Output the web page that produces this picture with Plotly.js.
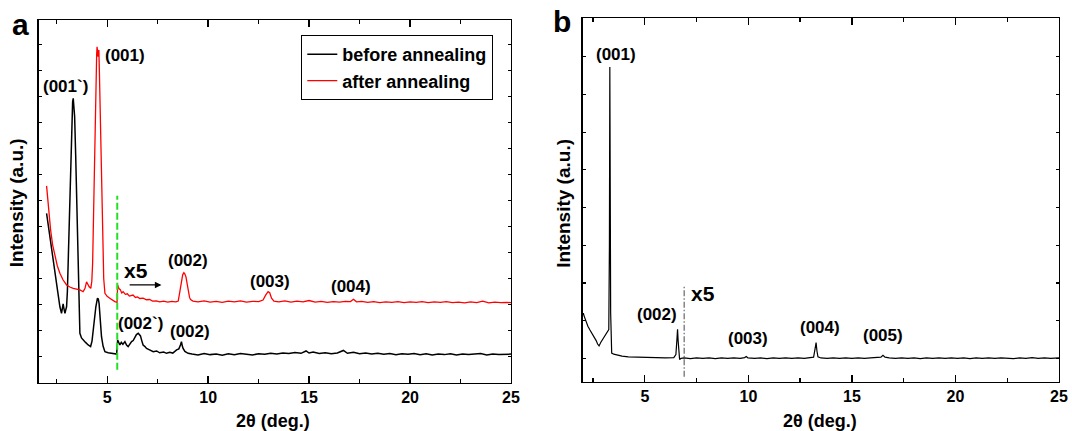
<!DOCTYPE html>
<html><head><meta charset="utf-8">
<script src="https://cdn.plot.ly/plotly-3.0.1.min.js"></script>
<style>html,body{margin:0;padding:0;background:#fff}#chart{width:1072px;height:431px}</style>
</head><body><div id="chart"></div>
<script>
// ---------- DATA ----------
// Panel a, "before annealing" (x: 2θ in deg, y: intensity in arbitrary tick units; after 5.5° shown x5)
const beforeAnnealing = [
 [2.0,6.51],[2.08,6.05],[2.16,5.62],[2.25,5.1],[2.33,4.59],[2.42,4.2],[2.5,3.82],[2.58,3.35],[2.66,2.92],[2.74,2.67],
 [2.78,2.85],[2.82,3.03],[2.86,2.85],[2.91,2.67],[2.95,2.8],[2.99,2.92],[3.03,3.5],[3.07,4.59],[3.13,6.5],[3.19,8.44],
 [3.25,10.0],[3.29,10.8],[3.32,10.94],[3.35,10.6],[3.39,10.23],[3.44,8.8],[3.49,7.15],[3.56,3.95],[3.65,1.9],[3.73,1.72],
 [3.81,1.64],[3.93,1.55],[4.06,1.45],[4.18,1.39],[4.25,1.6],[4.31,2.03],[4.38,2.5],[4.44,2.92],[4.52,3.25],[4.56,3.22],
 [4.6,3.05],[4.66,2.4],[4.72,1.77],[4.8,1.4],[4.89,1.19],[5.05,1.15],[5.22,1.13],[5.35,1.11],[5.47,1.1],[5.52,1.64],
 [5.58,1.5],[5.63,1.45],[5.7,1.55],[5.78,1.48],[5.88,1.58],[5.96,1.45],[6.04,1.39],[6.12,1.5],[6.21,1.58],[6.29,1.62],
 [6.37,1.77],[6.45,1.85],[6.54,1.9],[6.6,1.85],[6.65,1.8],[6.72,1.6],[6.78,1.45],[6.86,1.4],[6.95,1.32],[7.1,1.26],
 [7.28,1.19],[7.45,1.22],[7.6,1.15],[7.8,1.18],[7.94,1.13],[8.1,1.17],[8.25,1.14],[8.44,1.26],[8.55,1.3],[8.63,1.45],
 [8.68,1.58],[8.72,1.42],[8.76,1.32],[8.85,1.2],[9.01,1.13],[9.2,1.1],[9.5,1.07],[9.8,1.12],[10.1,1.08],[10.4,1.1],
 [10.7,1.06],[11.0,1.11],[11.3,1.08],[11.6,1.12],[11.9,1.09],[12.2,1.07],[12.5,1.11],[12.8,1.09],[13.1,1.13],[13.4,1.1],
 [13.7,1.14],[14.0,1.12],[14.3,1.16],[14.6,1.13],[14.85,1.22],[15.0,1.14],[15.2,1.18],[15.5,1.12],[15.8,1.15],[16.1,1.11],
 [16.4,1.14],[16.7,1.24],[16.9,1.13],[17.2,1.17],[17.5,1.11],[17.8,1.14],[18.1,1.1],[18.4,1.13],[18.7,1.09],[19.0,1.12],
 [19.3,1.08],[19.6,1.11],[19.9,1.09],[20.2,1.12],[20.5,1.08],[20.8,1.11],[21.1,1.07],[21.4,1.1],[21.7,1.08],[22.0,1.11],
 [22.3,1.07],[22.6,1.1],[22.9,1.08],[23.2,1.09],[23.5,1.12],[23.8,1.07],[24.1,1.1],[24.4,1.08],[24.7,1.09],[25.0,1.1]
];
// Panel a, "after annealing"
const afterAnnealing = [
 [2.0,7.57],[2.04,7.2],[2.08,6.9],[2.14,6.35],[2.2,5.87],[2.3,5.3],[2.41,4.85],[2.53,4.5],[2.66,4.21],[2.82,3.95],
 [2.99,3.76],[3.15,3.68],[3.32,3.63],[3.5,3.6],[3.65,3.57],[3.81,3.5],[3.9,3.62],[3.98,3.88],[4.05,3.75],[4.11,3.69],
 [4.19,3.63],[4.24,3.9],[4.28,4.59],[4.32,6.5],[4.36,8.44],[4.4,10.2],[4.44,11.64],[4.48,12.6],[4.5,12.92],[4.53,12.6],
 [4.55,12.54],[4.57,12.7],[4.59,12.8],[4.62,11.8],[4.67,9.72],[4.72,7.4],[4.77,5.23],[4.83,4.0],[4.89,3.44],[5.0,3.32],
 [5.13,3.25],[5.25,3.18],[5.38,3.12],[5.49,3.09],[5.52,3.76],[5.58,3.62],[5.65,3.58],[5.72,3.45],[5.79,3.5],[5.9,3.4],
 [6.0,3.42],[6.1,3.33],[6.2,3.36],[6.28,3.37],[6.4,3.28],[6.5,3.3],[6.62,3.24],[6.78,3.25],[6.95,3.19],[7.1,3.2],
 [7.25,3.14],[7.44,3.15],[7.6,3.11],[7.8,3.14],[8.0,3.1],[8.2,3.13],[8.4,3.11],[8.52,3.14],[8.6,3.5],[8.68,3.95],
 [8.74,4.15],[8.8,4.23],[8.85,4.18],[8.9,4.08],[8.96,3.8],[9.01,3.5],[9.08,3.28],[9.13,3.2],[9.25,3.14],[9.5,3.11],
 [9.8,3.15],[10.1,3.1],[10.4,3.13],[10.7,3.09],[11.0,3.14],[11.3,3.11],[11.6,3.15],[11.9,3.1],[12.2,3.13],[12.5,3.12],
 [12.72,3.18],[12.85,3.37],[12.97,3.5],[13.05,3.46],[13.14,3.25],[13.26,3.14],[13.5,3.11],[13.8,3.15],[14.1,3.1],[14.4,3.14],
 [14.7,3.11],[15.0,3.16],[15.3,3.1],[15.6,3.13],[15.9,3.09],[16.2,3.12],[16.5,3.1],[16.8,3.13],[17.05,3.12],[17.2,3.21],
 [17.35,3.11],[17.6,3.13],[17.9,3.09],[18.2,3.12],[18.5,3.08],[18.8,3.11],[19.1,3.09],[19.4,3.12],[19.7,3.08],[20.0,3.11],
 [20.3,3.09],[20.6,3.12],[20.9,3.08],[21.2,3.11],[21.5,3.09],[21.8,3.12],[22.1,3.08],[22.4,3.1],[22.7,3.07],[23.0,3.11],
 [23.3,3.08],[23.6,3.14],[23.9,3.07],[24.2,3.1],[24.5,3.08],[24.8,3.09],[25.0,3.08]
];
// Panel b (after 6.9° shown x5)
const panelB = [
 [2.0,1.15],[2.03,1.2],[2.07,1.12],[2.15,0.98],[2.25,0.85],[2.35,0.75],[2.45,0.66],[2.55,0.58],[2.65,0.47],[2.72,0.38],
 [2.79,0.33],[2.87,0.42],[2.99,0.53],[3.1,0.63],[3.2,0.7],[3.26,0.76],[3.29,3.0],[3.31,7.73],[3.33,4.5],[3.35,1.2],
 [3.37,0.25],[3.4,0.14],[3.5,0.11],[3.7,0.08],[3.9,0.06],[4.2,0.04],[4.6,0.03],[5.0,0.02],[5.5,0.02],[6.0,0.01],
 [6.4,0.02],[6.5,0.1],[6.55,0.5],[6.58,0.77],[6.61,0.45],[6.64,0.1],[6.68,-0.03],[6.75,0.0],[6.9,0.01],[7.2,-0.01],
 [7.5,0.01],[7.8,0.0],[8.1,0.01],[8.4,-0.01],[8.7,0.01],[9.0,0.0],[9.3,0.01],[9.6,0.0],[9.82,0.02],[9.9,0.05],
 [9.98,0.01],[10.3,0.0],[10.6,0.01],[10.9,-0.01],[11.2,0.01],[11.5,0.0],[11.8,0.01],[12.1,0.0],[12.4,0.01],[12.7,0.0],
 [13.0,0.01],[13.15,0.03],[13.22,0.25],[13.27,0.42],[13.31,0.2],[13.36,0.04],[13.5,0.01],[13.8,0.0],[14.1,0.01],[14.4,0.0],
 [14.7,0.01],[15.0,0.0],[15.3,0.01],[15.6,0.0],[15.9,0.01],[16.2,0.01],[16.4,0.03],[16.5,0.08],[16.6,0.03],[16.8,0.01],
 [17.1,0.0],[17.4,0.01],[17.7,0.0],[18.0,0.01],[18.3,-0.01],[18.6,0.01],[18.9,0.0],[19.2,0.01],[19.5,0.0],[19.8,0.01],
 [20.1,0.0],[20.4,0.01],[20.7,-0.01],[21.0,0.01],[21.3,0.0],[21.6,0.01],[21.9,0.0],[22.2,0.01],[22.5,0.0],[22.8,-0.01],
 [23.1,0.01],[23.4,0.0],[23.7,0.02],[24.0,0.0],[24.3,0.01],[24.6,0.0],[25.0,0.01]
];
const seriesNames = ['before annealing', 'after annealing'];
// Peak labels panel a: text, x, y
const peakTextA = ['(001`)', '(001)', '(002)', '(003)', '(004)', '(002`)', '(002)'];
const peakXA    = [2.96, 5.88, 9.01, 13.05, 17.06, 6.65, 9.09];
const peakYA    = [11.38, 12.6, 4.69, 3.88, 3.71, 2.28, 1.96];
// Peak labels panel b
const peakTextB = ['(001)', '(002)', '(003)', '(004)', '(005)'];
const peakXB    = [3.63, 5.61, 10.0, 13.44, 16.5];
const peakYB    = [8.07, 1.17, 0.53, 0.82, 0.6];
// Scale markers
const scaleTextA = 'x5', scaleXA = 6.44, scaleYA = 4.3;
const arrowA = {x0: 6.04, x1: 7.69, y: 3.76};
const greenLineA = {x: 5.5, y0: 0.5, y1: 7.19};
const scaleTextB = 'x5', scaleXB = 7.82, scaleYB = 1.71;
const dashLineB = {x: 6.9, y0: -0.49, y1: 1.9};
const xTitle = '2θ (deg.)', yTitle = 'Intensity (a.u.)';

// ---------- LAYOUT ----------
const W = 1072, H = 431;
const fx = p => p / W, fy = p => 1 - p / H;
const FONT = 'Arial, "Liberation Sans", sans-serif';
const col = (arr, i) => arr.map(p => p[i]);

const traces = [
  {x: col(beforeAnnealing,0), y: col(beforeAnnealing,1), name: seriesNames[0], type: 'scatter', mode: 'lines',
   line: {color: '#000', width: 1.5}, xaxis: 'x', yaxis: 'y'},
  {x: col(afterAnnealing,0), y: col(afterAnnealing,1), name: seriesNames[1], type: 'scatter', mode: 'lines',
   line: {color: '#ff0000', width: 1.3}, xaxis: 'x', yaxis: 'y'},
  {x: col(panelB,0), y: col(panelB,1), name: 'b', type: 'scatter', mode: 'lines', showlegend: false,
   line: {color: '#000', width: 1.2}, xaxis: 'x2', yaxis: 'y2'}
];

function xax(domain, range) {
  return {domain, range, showgrid: false, zeroline: false, showline: true, linecolor: '#000', linewidth: 1.3,
    mirror: 'ticks', ticks: 'inside', ticklen: 7, tickwidth: 1.3, tickcolor: '#000', dtick: 5, tick0: 0,
    minor: {dtick: 2.5, tick0: 0, ticks: 'inside', ticklen: 4, tickwidth: 1.3, tickcolor: '#000', showgrid: false},
    tickfont: {family: FONT, size: 16, weight: 'bold', color: '#000'}, fixedrange: true};
}
function yax(domain, range, anchor) {
  return {domain, range, anchor, showgrid: false, zeroline: false, showline: true, linecolor: '#000', linewidth: 1.3,
    mirror: 'ticks', ticks: 'inside', ticklen: 3, tickwidth: 1.2, tickcolor: '#000', dtick: 1, tick0: 0,
    showticklabels: false, fixedrange: true};
}

const ann = [];
const txt = (text, x, y, xref, yref, size, extra) =>
  Object.assign({text, x, y, xref, yref, showarrow: false, xanchor: 'center', yanchor: 'middle',
    font: {family: FONT, size, weight: 'bold', color: '#000'}}, extra || {});
peakTextA.forEach((t, i) => ann.push(txt(t, peakXA[i], peakYA[i], 'x', 'y', 17)));
peakTextB.forEach((t, i) => ann.push(txt(t, peakXB[i], peakYB[i], 'x2', 'y2', 17)));
ann.push(txt(scaleTextA, scaleXA, scaleYA, 'x', 'y', 21));
ann.push(txt(scaleTextB, scaleXB, scaleYB, 'x2', 'y2', 21));
ann.push({x: arrowA.x1, y: arrowA.y, ax: arrowA.x0, ay: arrowA.y, axref: 'x', ayref: 'y', xref: 'x', yref: 'y',
  text: '', showarrow: true, arrowhead: 2, arrowsize: 1.1, arrowwidth: 1.2, arrowcolor: '#000'});
// panel letters
ann.push(txt('a', fx(20.5), fy(25), 'paper', 'paper', 30));
ann.push(txt('b', fx(561.7), fy(21.5), 'paper', 'paper', 30));
// axis titles
ann.push(txt(xTitle, fx(272.5), fy(421), 'paper', 'paper', 18));
ann.push(txt(xTitle, fx(820), fy(421), 'paper', 'paper', 18));
ann.push(txt(yTitle, fx(17.2), fy(203), 'paper', 'paper', 19, {textangle: -90}));
ann.push(txt(yTitle, fx(563.8), fy(203), 'paper', 'paper', 19, {textangle: -90}));

const shapes = [
  {type: 'line', xref: 'x', yref: 'y', x0: greenLineA.x, x1: greenLineA.x, y0: greenLineA.y0, y1: greenLineA.y1,
   line: {color: '#22e022', width: 2, dash: '7px,3px'}},
  {type: 'line', xref: 'x2', yref: 'y2', x0: dashLineB.x, x1: dashLineB.x, y0: dashLineB.y0, y1: dashLineB.y1,
   line: {color: '#666', width: 1.2, dash: '6px,2px,1.5px,2px'}}
];

const layout = {
  width: W, height: H, margin: {l: 0, r: 0, t: 0, b: 0}, paper_bgcolor: '#fff', plot_bgcolor: '#fff',
  font: {family: FONT, color: '#000'},
  xaxis: xax([fx(38.5), fx(511)], [1.6, 25]),
  yaxis: yax([fy(382.7), fy(20)], [0, 13.95], 'x'),
  xaxis2: Object.assign(xax([fx(582.7), fx(1059)], [2, 25]), {anchor: 'y2'}),
  yaxis2: yax([fy(381.7), fy(18.3)], [-0.62, 9.02], 'x2'),
  showlegend: true,
  legend: {x: fx(493.3), xanchor: 'right', y: fy(35), yanchor: 'top', bgcolor: '#fff', bordercolor: '#000',
    borderwidth: 1, font: {family: FONT, size: 18, weight: 'bold', color: '#000'}, tracegroupgap: 0},
  annotations: ann, shapes: shapes
};
layout.xaxis.anchor = 'y';
Plotly.newPlot('chart', traces, layout, {displayModeBar: false, staticPlot: true});
</script></body></html>
